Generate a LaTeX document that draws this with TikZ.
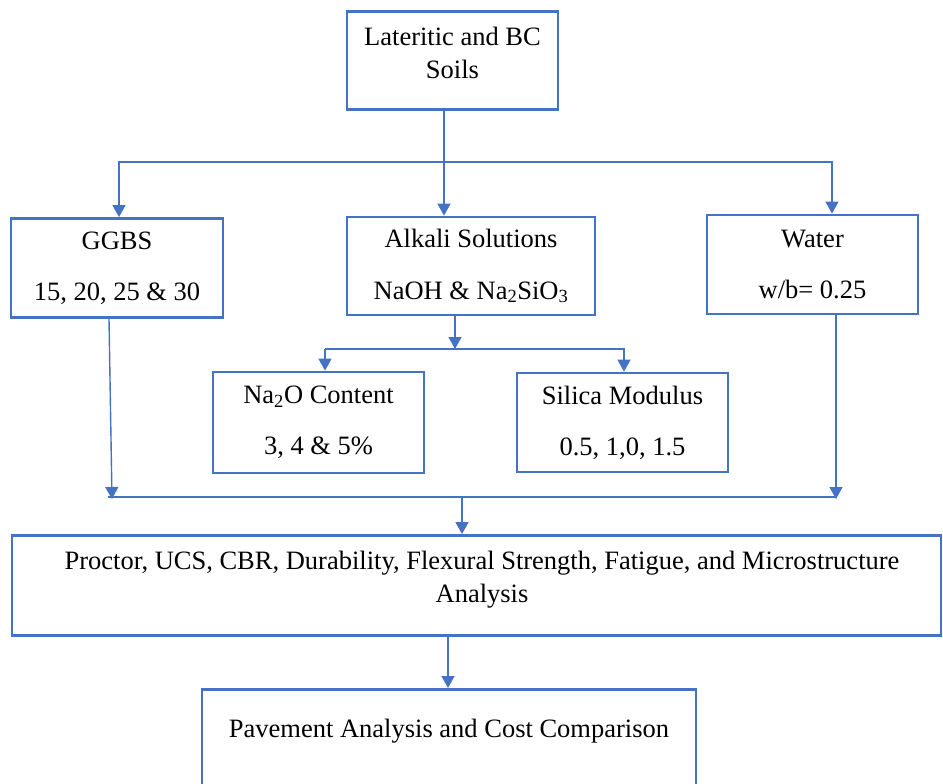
\documentclass[tikz,border=0pt]{standalone}
\usepackage{fontspec}
\setmainfont{Liberation Serif}
\usetikzlibrary{arrows.meta}
\definecolor{wblue}{HTML}{4472C4}
\begin{document}
\begin{tikzpicture}[x=1pt,y=-1pt,
  box/.style={draw=wblue,line width=2.8pt,rectangle,inner sep=0pt,align=center,
    font=\fontsize{26.5}{51}\selectfont},
  txt/.style={inner sep=0pt,align=center,font=\fontsize{26.5}{33.5}\selectfont},
  conn/.style={draw=wblue,line width=1.4pt},
  arr/.style={conn,-{Triangle[width=13pt,length=12pt]}}]
\useasboundingbox (0,0) rectangle (943,784);
\clip (0,0) rectangle (943,784);
% boxes
\node[box,minimum width=211pt,minimum height=98pt] (top) at (452.5,60.5) {};
\node[txt] (topt) at (452.5,53) {Lateritic and BC\\Soils};
\node[box,minimum width=212pt,minimum height=99pt] (ggbs) at (117,268) {GGBS\\15, 20, 25 \& 30};
\node[box,minimum width=248pt,minimum height=98pt] (alk) at (471,266) {Alkali Solutions\\[1pt]NaOH \& Na\textsubscript{2}SiO\textsubscript{3}};
\node[box,minimum width=211pt,minimum height=99pt] (wat) at (812.5,264.5) {Water\\w/b= 0.25};
\node[box,minimum width=211pt,minimum height=101pt] (na) at (318.5,422.5) {Na\textsubscript{2}O Content\\3, 4 \& 5\%};
\node[box,minimum width=211pt,minimum height=99pt] (sil) at (622.5,422.5) {Silica Modulus\\0.5, 1,0, 1.5};
\node[box,minimum width=929pt,minimum height=100pt] (big) at (476.5,585.5) {};
\node[txt] (bigt) at (482,579.5) {Proctor, UCS, CBR, Durability, Flexural Strength, Fatigue, and Microstructure\\Analysis};
\node[box,minimum width=494pt,minimum height=130pt,anchor=north] (pav) at (449,688) {};
\node[txt] (pavt) at (449,731) {Pavement Analysis and Cost Comparison};
% coordinates for connector columns / rows
\coordinate (xa) at (444,0);
\coordinate (xg) at (119,0);
\coordinate (xw) at (832,0);
\coordinate (r1) at (0,162);
\coordinate (xal) at (455,0);
\coordinate (r2) at (0,349);
\coordinate (xn) at (325,0);
\coordinate (xs) at (624,0);
\coordinate (r3) at (0,497);
\coordinate (xgo) at (109,0);
\coordinate (xgi) at (112,0);
\coordinate (xwo) at (836,0);
\coordinate (xm) at (462,0);
\coordinate (xp) at (448,0);
\coordinate (jg) at (xg |- r1);
\coordinate (jw) at (xw |- r1);
\coordinate (jn) at (xn |- r2);
\coordinate (js) at (xs |- r2);
\coordinate (jgo) at (108,497);
\coordinate (jwo) at (xwo |- r3);
% top distribution
\draw[arr] (top.south -| xa) -- (alk.north -| xa);
\draw[conn] ([yshift=-3pt]jg) -- (jg) -- (jw) -- ([yshift=-3pt]jw);
\draw[arr] (jg) -- (ggbs.north -| xg);
\draw[arr] (jw) -- (wat.north -| xw);
% alkali split
\draw[arr] (alk.south -| xal) -- (xal |- r2);
\draw[conn] (jn) -- (js) -- ([yshift=-3pt]js);
\draw[arr] (jn) -- (na.north -| xn);
\draw[arr] (js) -- (sil.north -| xs);
% merge
\draw[arr] (ggbs.south -| xgo) -- ([yshift=-2pt]xgi |- r3);
\draw[arr] (wat.south -| xwo) -- ([yshift=-2pt]jwo);
\draw[conn] (jgo) -- (jwo);
\draw[arr] (xm |- r3) -- (big.north -| xm);
\draw[arr] (big.south -| xp) -- (pav.north -| xp);
\end{tikzpicture}
\end{document}
